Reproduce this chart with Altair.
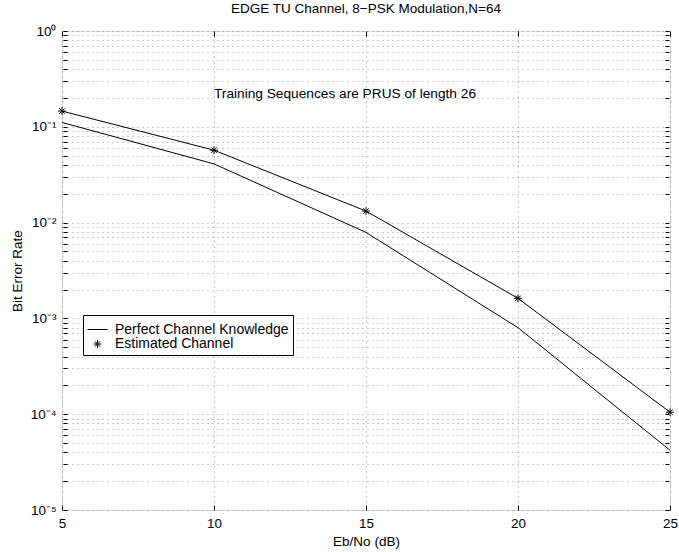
import altair as alt
import pandas as pd

# ---- data ----
ebno = [5, 10, 15, 20, 25]
ber_perfect = [0.111, 0.041, 0.0079, 0.00080, 4.2e-5]
ber_estimated = [0.146, 0.057, 0.0132, 0.00162, 1.05e-4]
series_names = ["Perfect Channel Knowledge", "Estimated Channel"]

note_x = [10]
note_y = [0.22]
note_text = ["Training Sequences are PRUS of length 26"]

title_text = "EDGE TU Channel, 8\u2212PSK Modulation,N=64"
x_title = "Eb/No (dB)"
y_title = "Bit Error Rate"

decades = [-5, -4, -3, -2, -1, 0]
sup = {0: "\u2070", -1: "\u207b\u00b9", -2: "\u207b\u00b2", -3: "\u207b\u00b3",
       -4: "\u207b\u2074", -5: "\u207b\u2075"}

# ---- tables ----
df = pd.DataFrame({
    "ebno": ebno * 2,
    "ber": ber_perfect + ber_estimated,
    "series": [series_names[0]] * len(ebno) + [series_names[1]] * len(ebno),
})
notes = pd.DataFrame({"x": note_x, "y": note_y, "t": note_text})

y_ticks = []
for k in decades[:-1]:
    for m in range(1, 10):
        y_ticks.append(float(f"{m}e{k}"))
y_ticks.append(1.0)

label_expr = "''"
for k in decades:
    label_expr = f"datum.value == {float(f'1e{k}')!r} ? '10{sup[k]}' : ({label_expr})"

FONT = "Liberation Sans"
FS = 13.5
xscale = alt.Scale(domain=[5, 25], nice=False, zero=False)
yscale = alt.Scale(type="log", domain=[1e-5, 1], nice=False)

grid_kw = dict(grid=True, gridColor="#444", gridDash=[1, 4], gridWidth=1, gridOpacity=0.55)

x_main = alt.X("ebno:Q", scale=xscale, axis=alt.Axis(
    orient="bottom", values=ebno, title=x_title, offset=-5, tickSize=5, tickColor="black",
    domain=False, labelPadding=6, labelFontSize=FS, labelColor="black", labelFont=FONT,
    titleFont=FONT, titleFontSize=FS, titleFontWeight="normal", titleColor="black",
    titlePadding=5, labelFlush=False, **grid_kw))
y_main = alt.Y("ber:Q", scale=yscale, axis=alt.Axis(
    orient="left", values=y_ticks, labelExpr=label_expr, title=y_title, offset=-5,
    tickSize=4, tickColor="black", domain=False, labelPadding=7, labelFontSize=FS,
    labelColor="black", labelFont=FONT, titleFont=FONT, titleFontSize=FS,
    titleFontWeight="normal", titleColor="black", titlePadding=6, labelFlush=False,
    labelOverlap=False, **grid_kw))

x_top = alt.X("ebno:Q", scale=xscale, axis=alt.Axis(
    orient="top", values=ebno, title=None, labels=False, offset=-5, tickSize=5,
    tickColor="black", domain=False, grid=False))
y_right = alt.Y("ber:Q", scale=yscale, axis=alt.Axis(
    orient="right", values=y_ticks, title=None, labels=False, offset=-5, tickSize=4,
    tickColor="black", domain=False, grid=False))

asterisk = "M-1,0L1,0M0,-1L0,1M-0.7,-0.7L0.7,0.7M-0.7,0.7L0.7,-0.7"

lines = alt.Chart(df).mark_line(color="black", strokeWidth=1).encode(
    x=x_main, y=y_main, detail="series:N")

legend = alt.Legend(
    title=None, orient="none", legendX=21, legendY=284, strokeColor="black",
    fillColor="white", padding=4, labelFontSize=14, labelFont=FONT, labelColor="black",
    symbolStrokeColor="black", symbolStrokeWidth=1, labelOffset=7, rowPadding=0,
    cornerRadius=0, labelLimit=400)

points = alt.Chart(df).transform_filter(
    alt.datum.series == series_names[1]
).mark_point(filled=False, color="black", strokeWidth=1, opacity=1).encode(
    x=x_top, y=y_right,
    shape=alt.Shape("series:N", scale=alt.Scale(domain=series_names, range=["stroke", asterisk]),
                    legend=legend),
    size=alt.Size("series:N", scale=alt.Scale(domain=series_names, range=[400, 60]),
                  legend=legend),
)

note = alt.Chart(notes).mark_text(
    align="left", baseline="middle", fontSize=13.7, font=FONT, color="black"
).encode(
    x=alt.X("x:Q", scale=xscale, axis=None),
    y=alt.Y("y:Q", scale=yscale, axis=None),
    text="t:N",
)

chart = alt.layer(lines, points, note).resolve_axis(
    x="independent", y="independent"
).properties(
    width=608, height=479,
    title=alt.TitleParams(title_text, font=FONT, fontSize=13.5, fontWeight="normal",
                          color="black", offset=9, anchor="middle"),
    autosize=alt.AutoSizeParams(type="none"),
    padding={"left": 62, "top": 31, "right": 9, "bottom": 42},
).configure_view(stroke="black", strokeWidth=1).configure(background="white")

chart.save("out.html", embed_options={"renderer": "svg", "actions": False})
